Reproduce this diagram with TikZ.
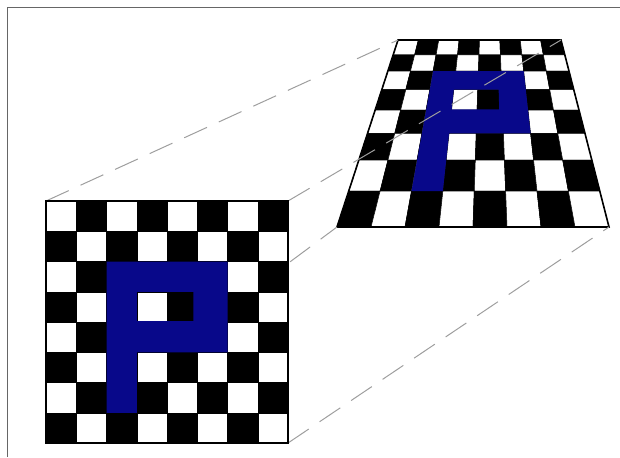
\documentclass[tikz,border=0pt]{standalone}
\usepackage{tikz}
\usetikzlibrary{calc}
\definecolor{pblue}{RGB}{8,8,138}
\tikzset{
  cellbox/.style={draw=black, line width=0.5pt},
  rim/.style={draw=black, line width=1.6pt, line join=miter},
  guide/.style={draw=black!38, line width=1pt, dash pattern=on 25pt off 13pt},
  frm/.style={draw=black!60, line width=1.3pt},
}
% one 8x8 board, corners given by \pt{col}{row}
\newcommand{\board}{%
  \foreach \r in {0,...,7}{
    \foreach \c in {0,...,7}{
      \pgfmathtruncatemacro\s{\r+\c}
      \ifodd\s \def\cellcol{black}\else \def\cellcol{white}\fi
      \filldraw[cellbox, fill=\cellcol] \pt{\c}{\r} -- \pt{\c+1}{\r} -- \pt{\c+1}{\r+1} -- \pt{\c}{\r+1} -- cycle;
    }
  }
  \fill[pblue, even odd rule] \pt{2}{2} -- \pt{6}{2} -- \pt{6}{5} -- \pt{3}{5} -- \pt{3}{7} -- \pt{2}{7} -- cycle
    \pt{3}{3} -- \pt{4.87}{3} -- \pt{4.87}{3.97} -- \pt{3}{3.97} -- cycle;
  \draw[rim] \pt{0}{0} -- \pt{8}{0} -- \pt{8}{8} -- \pt{0}{8} -- cycle;
}
\begin{document}
\begin{tikzpicture}[x=1pt, y=-1pt,
  declare function={
    sx(\c)=46+30.25*\c;
    sy(\r)=201+30.25*\r;
    ty(\r)=-240.5+467.5/(1+(8-\r)/12);
    tx(\c,\r)=337+34*\c+(61-13.625*\c)*(227-ty(\r))/187;
  }]
  \useasboundingbox (0,0) rectangle (620,457);
  \draw[frm] (7.5,457) -- (7.5,7.5) -- (620,7.5);

  % tilted board
  \def\pt#1#2{({tx(#1,#2)},{ty(#2)})}
  \board
  \path \pt{0}{0} coordinate (trTL) \pt{8}{0} coordinate (trTR)
        \pt{0}{8} coordinate (trBL) \pt{8}{8} coordinate (trBR);

  % flat board corners
  \def\pt#1#2{({sx(#1)},{sy(#2)})}
  \path \pt{0}{0} coordinate (sqTL) \pt{8}{0} coordinate (sqTR)
        \pt{0}{8} coordinate (sqBL) \pt{8}{8} coordinate (sqBR);

  \draw[guide] (sqTL) -- (trTL);
  \draw[guide] (sqTR) -- (trTR);
  \draw[guide] (sqBL) -- (trBL);
  \draw[guide] (sqBR) -- (trBR);

  % flat board
  \board
\end{tikzpicture}
\end{document}
